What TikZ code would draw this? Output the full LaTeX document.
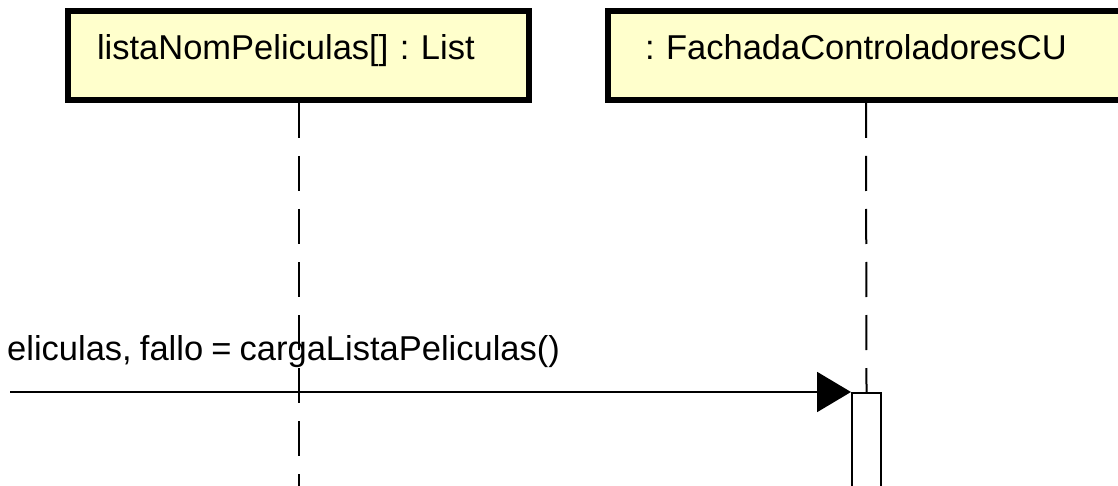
\documentclass[tikz,border=0pt]{standalone}
\usepackage{fontspec}
\setmainfont[WordSpace=0.85]{Liberation Sans}
\frenchspacing
\usetikzlibrary{positioning, arrows.meta}
\definecolor{objfill}{HTML}{FFFFCC}

\begin{document}
\begin{tikzpicture}[x=1pt, y=-1pt, font=\fontsize{34.5}{40}\selectfont,
    objbox/.style={draw=black, line width=6pt, fill=objfill, anchor=north west,
      minimum height=89pt, text height=26pt, text depth=17pt, inner ysep=5pt,
      align=left},
    lifeline/.style={draw=black, line width=2pt, dash pattern=on 35pt off 18pt},
    actbox/.style={draw=black, line width=2pt, fill=white, anchor=north,
      minimum width=29pt, minimum height=120pt, inner sep=0pt},
    msg/.style={draw=black, line width=2pt, -{Triangle[length=34pt, width=40pt]}}]
        \clip (0,0) rectangle (1118,486);
        \fill[white] (0,0) rectangle (1118,486);
        \node[objbox, minimum width=461pt, inner xsep=29pt, text width=403pt] (lista) at (65,8)
              {listaNomPeliculas[] : List};
        \node[objbox, minimum width=516pt, inner xsep=37pt, text width=442pt] (fachada) at (605,8)
              {: FachadaControladoresCU};
        \coordinate (bot) at (0,490);
        \coordinate (src) at (10,392);
        \draw[lifeline] (lista.south) -- (lista.south |- bot);
        \node[actbox] (act) at (866.5,392) {};
        \draw[lifeline] (fachada.south) -- (act.north);
        \draw[msg] (src) -- (act.north west);
        \node[anchor=base west, inner sep=0pt] (lbl) at (7,360)
              {eliculas, fallo = cargaListaPeliculas()};
      \end{tikzpicture}
\end{document}
